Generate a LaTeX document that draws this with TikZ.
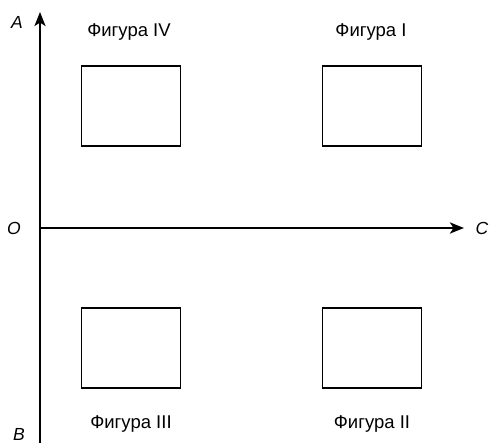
\documentclass[tikz,border=0pt]{standalone}
\usepackage{fontspec}
\setmainfont{Liberation Sans}
\usetikzlibrary{arrows.meta}
\begin{document}
\begin{tikzpicture}[x=1pt,y=-1pt,
  axis/.style={line width=2.6pt,-{Stealth[length=14pt,width=11pt,inset=3.5pt]}},
  fig/.style={draw,line width=1.1pt},
  lbl/.style={font=\fontsize{18.5}{20}\selectfont},
  axlbl/.style={font=\fontsize{17.5}{19}\selectfont\itshape}]
\useasboundingbox (0,0) rectangle (489,443);
\coordinate (O) at (40,228);
\coordinate (Top) at (40,12);
\coordinate (Bot) at (40,443);
\coordinate (Right) at (464,228);
\draw[axis] (Bot) -- (Top);
\draw[axis] (O) -- (Right);
\node[axlbl] (lA) at (17,22) {A};
\node[axlbl] (lO) at (14,228) {O};
\node[axlbl] (lC) at (482,228) {C};
\node[axlbl,inner sep=1pt] (lB) at (19,434) {B};
\node[fig] (f4) at (131,106) [minimum width=99pt,minimum height=80pt,inner sep=0pt] {};
\node[fig] (f1) at (372,106) [minimum width=99pt,minimum height=80pt,inner sep=0pt] {};
\node[fig] (f3) at (131,348) [minimum width=99pt,minimum height=80pt,inner sep=0pt] {};
\node[fig] (f2) at (372,348) [minimum width=99pt,minimum height=80pt,inner sep=0pt] {};
\node[lbl] (t4) at (129,32) {Фигура IV};
\node[lbl] (t1) at (371,32) {Фигура I};
\node[lbl] (t3) at (131,424) {Фигура III};
\node[lbl] (t2) at (372,424) {Фигура II};
\end{tikzpicture}
\end{document}
